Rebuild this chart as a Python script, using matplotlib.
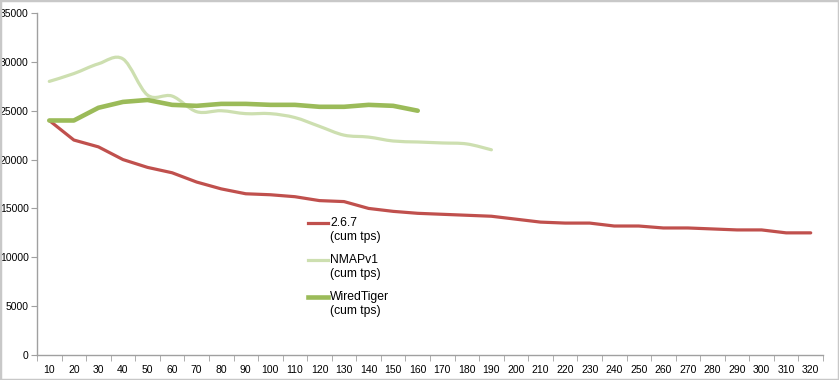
import numpy as np
import matplotlib
matplotlib.use('Agg')
import matplotlib.pyplot as plt
from matplotlib.path import Path
from matplotlib.patches import PathPatch, Rectangle

plt.rcParams['font.family'] = ['Liberation Sans', 'DejaVu Sans']

threads = list(range(10, 330, 10))
v267 = [24000, 22000, 21300, 20000, 19200, 18650, 17700, 17000, 16500, 16400,
        16200, 15800, 15700, 15000, 14700, 14500, 14400, 14300, 14200, 13900,
        13600, 13500, 13500, 13200, 13200, 13000, 13000, 12900, 12800, 12800,
        12500, 12500]
nmap = [28000, 28800, 29800, 30300, 26600, 26500, 24900, 25000, 24700, 24700,
        24300, 23400, 22500, 22300, 21900, 21800, 21700, 21600, 21000]
wt = [24000, 24000, 25300, 25900, 26100, 25600, 25500, 25700, 25700, 25600,
      25600, 25400, 25400, 25600, 25500, 25000]
names = ['2.6.7', 'NMAPv1', 'WiredTiger']

RED = '#c0504d'
LIGHT = '#cddfb0'
DARK = '#9bbb59'


def smooth_path(x, y, t=0.25):
    # excel style smoothed line as cubic bezier segments
    verts = [(x[0], y[0])]
    codes = [Path.MOVETO]
    n = len(x)
    for i in range(n - 1):
        x0, y0 = x[max(i - 1, 0)], y[max(i - 1, 0)]
        x1, y1 = x[i], y[i]
        x2, y2 = x[i + 1], y[i + 1]
        x3, y3 = x[min(i + 2, n - 1)], y[min(i + 2, n - 1)]
        c1 = (x1 + (x2 - x0) * t / 1.5, y1 + (y2 - y0) * t / 1.5)
        c2 = (x2 - (x3 - x1) * t / 1.5, y2 - (y3 - y1) * t / 1.5)
        verts += [c1, c2, (x2, y2)]
        codes += [Path.CURVE4] * 3
    return Path(verts, codes)


fig = plt.figure(figsize=(8.39, 3.80), dpi=100)
ax = fig.add_axes([37 / 839, 1 - 355 / 380, (823 - 37) / 839, (355 - 13) / 380])

ax.plot(np.arange(len(v267)), v267, color=RED, lw=2.3, solid_capstyle='round', zorder=3)
px = np.arange(len(nmap))
ax.add_patch(PathPatch(smooth_path(px, nmap), fill=False, edgecolor=LIGHT, lw=2.3,
                       capstyle='round', zorder=2))
ax.plot(np.arange(len(wt)), wt, color=DARK, lw=3.3, solid_capstyle='round', zorder=4)

ax.set_xlim(-0.5, len(threads) - 0.5)
ax.set_ylim(0, 35000)
ax.set_yticks(range(0, 35001, 5000))
ax.set_xticks(np.arange(len(threads)))
ax.set_xticklabels([str(t) for t in threads])
ax.set_xticks(np.arange(len(threads) + 1) - 0.5, minor=True)
ax.tick_params(axis='x', which='major', length=0, labelsize=7.5, pad=7)
ax.tick_params(axis='x', which='minor', length=4, color='#a0a0a0', direction='out')
ax.tick_params(axis='y', length=4, color='#a0a0a0', labelsize=7.5, pad=2)
for s in ['top', 'right']:
    ax.spines[s].set_visible(False)
for s in ['left', 'bottom']:
    ax.spines[s].set_color('#a0a0a0')
    ax.spines[s].set_linewidth(1.0)

# legend drawn by hand so the handle sits on the first text line
leg_y = [0.386, 0.278, 0.170]
leg_style = [(RED, 2.3), (LIGHT, 2.3), (DARK, 3.3)]
for name, yy, (c, lw) in zip(names, leg_y, leg_style):
    ax.plot([0.3448, 0.3702], [yy, yy], transform=ax.transAxes, color=c, lw=lw,
            clip_on=False, zorder=5)
    ax.text(0.3728, yy, name, transform=ax.transAxes, va='center', ha='left', fontsize=8.7)
    ax.text(0.3728, yy - 0.042, '(cum tps)', transform=ax.transAxes, va='center',
            ha='left', fontsize=8.7)

fig.patches.append(Rectangle((0, 0), 1, 1, transform=fig.transFigure, fill=False,
                             edgecolor='#c8c8c8', lw=2.5))

fig.savefig('out.png', dpi=100)
